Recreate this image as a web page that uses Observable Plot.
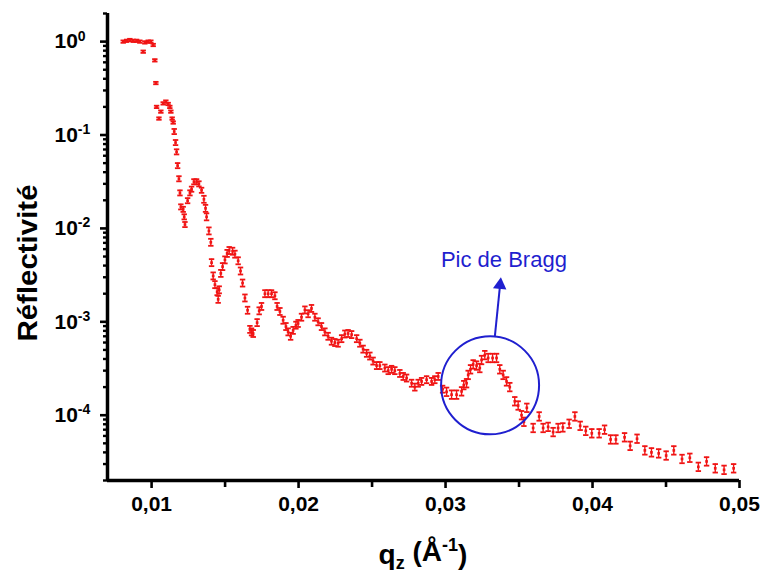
<!DOCTYPE html>
<html><head><meta charset="utf-8">
<script src="https://cdn.jsdelivr.net/npm/d3@7"></script>
<script src="https://cdn.jsdelivr.net/npm/@observablehq/plot@0.6"></script>
<style>body{margin:0;background:#fff;} #chart{width:765px;height:578px;}</style>
</head><body><div id="chart"></div>
<script>
// ---- data ----
const qz = [0.00807,0.00830,0.00852,0.00875,0.00898,0.00920,0.00943,0.00954,0.00977,0.00995,
0.01011,0.01022,0.01029,0.01034,0.01050,0.01063,0.01079,0.01097,0.01113,0.01124,
0.01131,0.01140,0.01147,0.01154,0.01163,0.01170,0.01177,0.01186,0.01193,0.01199,
0.01215,0.01222,0.01227,0.01245,0.01261,0.01272,0.01288,0.01306,0.01322,0.01340,
0.01356,0.01367,0.01374,0.01390,0.01403,0.01408,0.01419,0.01431,0.01446,0.01453,
0.01460,0.01471,0.01483,0.01499,0.01514,0.01528,0.01551,0.01567,0.01589,0.01605,
0.01619,0.01635,0.01653,0.01669,0.01680,0.01691,0.01718,0.01732,0.01748,0.01771,
0.01793,0.01816,0.01839,0.01854,0.01873,0.01895,0.01914,0.01929,0.01946,0.01963,
0.01982,0.01997,0.02020,0.02043,0.02065,0.02088,0.02111,0.02133,0.02156,0.02179,
0.02201,0.02224,0.02247,0.02269,0.02293,0.02315,0.02337,0.02361,0.02395,0.02417,
0.02439,0.02463,0.02485,0.02507,0.02531,0.02553,0.02587,0.02610,0.02633,0.02655,
0.02689,0.02712,0.02735,0.02769,0.02791,0.02814,0.02837,0.02871,0.02905,0.02927,
0.02950,0.02980,0.03007,0.03041,0.03075,0.03109,0.03124,0.03143,0.03154,0.03170,
0.03188,0.03211,0.03233,0.03245,0.03267,0.03290,0.03320,0.03347,0.03369,0.03392,
0.03415,0.03437,0.03471,0.03494,0.03517,0.03533,0.03553,0.03596,0.03637,0.03664,
0.03698,0.03732,0.03766,0.03798,0.03841,0.03880,0.03916,0.03954,0.03995,0.04045,
0.04082,0.04123,0.04159,0.04218,0.04256,0.04303,0.04356,0.04401,0.04450,0.04501,
0.04553,0.04609,0.04662,0.04720,0.04776,0.04835,0.04895,0.04960];
const refl = [1.0,1.02,1.04,1.02,1.02,1.0,0.78,0.98,1.0,1.0,
0.92,0.63,0.36,0.20,0.15,0.178,0.218,0.228,0.215,0.20,
0.178,0.15,0.136,0.109,0.083,0.066,0.047,0.034,0.024,0.017,
0.016,0.0133,0.011,0.0198,0.024,0.0263,0.0316,0.0316,0.030,0.0256,
0.0205,0.0164,0.0133,0.0094,0.0071,0.0043,0.0031,0.0025,0.0021,0.00174,
0.0022,0.0033,0.0039,0.0046,0.0054,0.0058,0.0057,0.0053,0.0045,0.0035,
0.0026,0.0018,0.00133,0.00083,0.00078,0.00075,0.00098,0.00131,0.00146,0.0020,
0.0020,0.0020,0.0019,0.00146,0.00129,0.00104,0.00089,0.00078,0.00070,0.00081,
0.00092,0.00096,0.00112,0.00134,0.00122,0.00139,0.00112,0.00100,0.00089,0.00078,
0.00070,0.00062,0.00060,0.00059,0.00066,0.00074,0.00075,0.00073,0.00066,0.00059,
0.00051,0.00046,0.00043,0.00038,0.00034,0.00034,0.00032,0.00030,0.00031,0.00030,
0.00028,0.00026,0.00025,0.00022,0.00020,0.00022,0.00023,0.00024,0.00023,0.00024,
0.00026,0.00019,0.000178,0.000166,0.000166,0.00018,0.00021,0.00022,0.00027,0.00031,
0.00035,0.00034,0.00032,0.00039,0.00044,0.00041,0.00041,0.00041,0.00031,0.00027,
0.00023,0.00020,0.000141,0.000127,0.00010,0.000085,0.00012,0.000073,0.000097,0.000073,
0.000075,0.000066,0.000073,0.000074,0.000081,0.000097,0.000077,0.000068,0.000064,0.000064,
0.00007,0.000055,0.000055,0.000058,0.000047,0.000056,0.000042,0.000040,0.000039,0.000037,
0.000042,0.000034,0.000035,0.000028,0.000032,0.000027,0.000026,0.000027];
// relative error bars, by q range
const errBreaks = [0.0115, 0.0135, 0.030];
const errRel = [0.03, 0.065, 0.09, 0.11];

const xTicks = [0.01, 0.02, 0.03, 0.04, 0.05];
const xTickLabels = ["0,01", "0,02", "0,03", "0,04", "0,05"];
const xMinorTicks = [0.015, 0.025, 0.035, 0.045];
const yTicks = [1, 0.1, 0.01, 0.001, 0.0001];
const yTickExponents = ["0", "-1", "-2", "-3", "-4"];
const xDomain = [0.007, 0.05];
const yDomain = [2e-5, 2];

// annotation
const annotText = "Pic de Bragg";
const annotTextPos = [0.03397, 4.57e-3];
const circleCenter = [0.03303, 2.09e-4];
const arrowFrom = [0.03335, 6.84e-4];
const arrowHead = [0.03371, 2.48e-3];

const RED = "#f01414", BLUE = "#1f1fcf";

// ---- build ----
const data = qz.map((q, i) => {
  let k = errBreaks.findIndex(b => q < b); if (k < 0) k = errBreaks.length;
  const e = errRel[k];
  return {q, r: refl[i], lo: refl[i] / (1 + e), hi: refl[i] * (1 + e)};
});
const yMinor = [];
for (let p = -5; p <= 0; p++) for (let m = 2; m <= 9; m++) {
  const v = m * Math.pow(10, p); if (v >= yDomain[0] * 0.999 && v <= yDomain[1] * 1.001) yMinor.push(v);
}
const hline = {draw(ctx, size) { const w = Math.sqrt(size / Math.PI); ctx.moveTo(-w, 0); ctx.lineTo(w, 0); }};

const plot = Plot.plot({
  width: 765, height: 578,
  marginLeft: 107, marginRight: 26, marginTop: 13, marginBottom: 98,
  style: {fontFamily: "'Liberation Sans', Arial, sans-serif", background: "#fff", overflow: "visible", color: "#000"},
  x: {domain: xDomain},
  y: {type: "log", domain: yDomain},
  marks: [
    Plot.axisX({ticks: xMinorTicks, tickSize: 7, stroke: "#000", strokeWidth: 2.6, strokeOpacity: 1, tickFormat: () => "", label: null}),
    Plot.axisX({ticks: xTicks, tickSize: 8, tickPadding: 8, stroke: "#000", strokeWidth: 2.6, strokeOpacity: 1, fill: "#000", fontSize: 21, fontWeight: "bold",
      tickFormat: d => xTickLabels[xTicks.indexOf(d)], label: null}),
    Plot.axisY({ticks: yMinor, tickSize: 4, stroke: "#000", strokeWidth: 2.4, strokeOpacity: 1, tickFormat: () => "", label: null}),
    Plot.axisY({ticks: yTicks, tickSize: 7, tickPadding: 46, textAnchor: "start", stroke: "#000", strokeWidth: 2.6, strokeOpacity: 1, fill: "#000", fontSize: 21, fontWeight: "bold",
      tickFormat: d => "10^" + yTickExponents[yTicks.indexOf(d)], label: null}),
    Plot.ruleX([xDomain[0]], {stroke: "#000", strokeWidth: 3.5, strokeOpacity: 1}),
    Plot.ruleY([yDomain[0]], {stroke: "#000", strokeWidth: 3.5, strokeOpacity: 1}),
    Plot.ruleX(data, {x: "q", y1: "lo", y2: "hi", stroke: RED, strokeWidth: 1.4}),
    Plot.dot(data, {x: "q", y: "lo", symbol: hline, r: 2.7, stroke: RED, strokeWidth: 1.8, fill: "none"}),
    Plot.dot(data, {x: "q", y: "hi", symbol: hline, r: 2.7, stroke: RED, strokeWidth: 1.8, fill: "none"}),
    Plot.dot(data, {x: "q", y: "r", symbol: "square", r: 1.5, fill: RED, stroke: "none"}),
    Plot.dot([circleCenter], {x: d => d[0], y: d => d[1], r: 49, stroke: BLUE, strokeWidth: 2, fill: "none"}),
    Plot.link([[arrowFrom, arrowHead]], {x1: d => d[0][0], y1: d => d[0][1], x2: d => d[1][0], y2: d => d[1][1], stroke: BLUE, strokeWidth: 2}),
    Plot.dot([arrowHead], {x: d => d[0], y: d => d[1], symbol: "triangle", r: 5, rotate: 6, fill: BLUE, stroke: "none"}),
    Plot.text([annotTextPos], {x: d => d[0], y: d => d[1], text: () => annotText, fill: BLUE, fontSize: 22})
  ]
});

const svg = d3.select(plot);
svg.selectAll('g[aria-label="y-axis tick label"] text').each(function () {
  const t = this.textContent;
  if (!t.startsWith("10^")) return;
  const exp = t.slice(3);
  this.textContent = "10";
  d3.select(this).append("tspan").attr("dy", "-0.55em").attr("font-size", "14px").text(exp);
});
// axis titles
svg.append("text")
  .attr("transform", "translate(30,263) rotate(-90)")
  .attr("text-anchor", "middle").attr("dominant-baseline", "middle")
  .attr("font-size", 27).attr("font-weight", "bold").attr("fill", "#000")
  .attr("textLength", 157).attr("lengthAdjust", "spacingAndGlyphs")
  .text("Réflectivité");
const xl = svg.append("text")
  .attr("x", 423).attr("y", 564).attr("text-anchor", "middle")
  .attr("font-size", 28).attr("font-weight", "bold").attr("fill", "#000");
xl.append("tspan").text("q");
xl.append("tspan").attr("dy", "0.3em").attr("font-size", "18px").text("z");
xl.append("tspan").attr("dy", "-0.3em").text(" (Å");
xl.append("tspan").attr("dy", "-0.55em").attr("font-size", "18px").text("-1");
xl.append("tspan").attr("dy", "0.45em").text(")");

document.getElementById("chart").appendChild(plot);
</script>
</body></html>
